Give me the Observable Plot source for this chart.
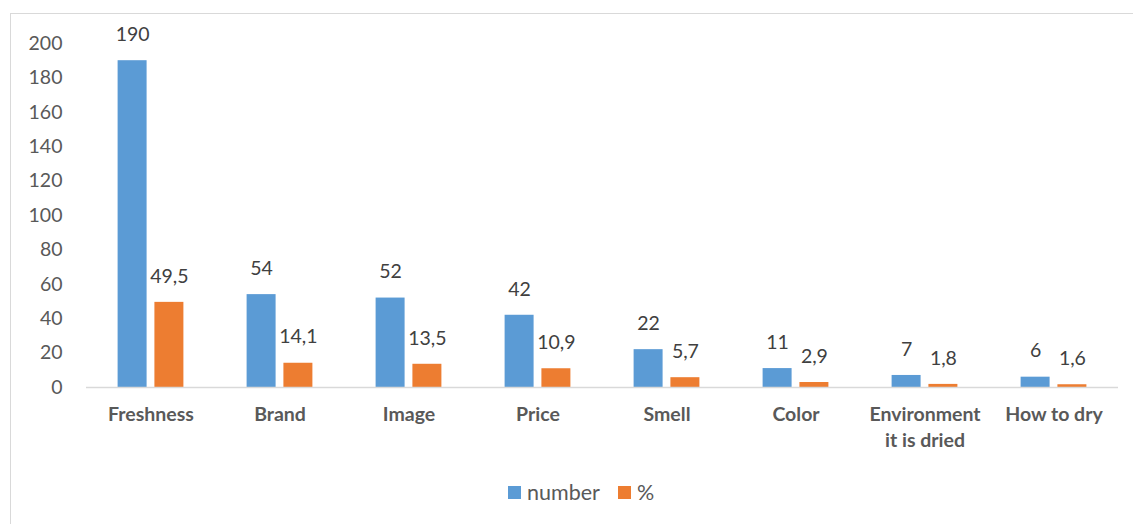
<!DOCTYPE html>
<html>
<head>
<meta charset="utf-8">
<script src="https://cdn.jsdelivr.net/npm/d3@7"></script>
<script src="https://cdn.jsdelivr.net/npm/@observablehq/plot@0.6"></script>
<style>
  html, body { margin: 0; padding: 0; background: #fff; overflow: hidden; }
  body { width: 1133px; height: 524px; position: relative; font-family: Lato, "Open Sans", sans-serif; }
  #frame { position: absolute; left: 10px; top: 13px; width: 1140px; height: 530px; border: 1px solid #d9d9d9; box-sizing: border-box; }
  #chart { position: absolute; left: 0; top: 0; }
  #legend { position: absolute; left: 508px; top: 479px; display: flex; align-items: center; font-size: 21.5px; color: #595959; }
  .sw { display: inline-block; width: 13px; height: 13px; margin-right: 6px; }
  .item { display: flex; align-items: center; margin-right: 18px; }
</style>
</head>
<body>
<div id="frame"></div>
<div id="chart"></div>
<div id="legend"></div>
<script>
const categories = ["Freshness", "Brand", "Image", "Price", "Smell", "Color", "Environment\nit is dried", "How to dry"];
const numberValues = [190, 54, 52, 42, 22, 11, 7, 6];
const percentValues = [49.5, 14.1, 13.5, 10.9, 5.7, 2.9, 1.8, 1.6];
const seriesNames = ["number", "%"];
const seriesColors = ["#5B9BD5", "#ED7D31"];
const yTicks = [0, 20, 40, 60, 80, 100, 120, 140, 160, 180, 200];

const numberRows = categories.map((c, i) => ({category: c, series: seriesNames[0], value: numberValues[i]}));
const percentRows = categories.map((c, i) => ({category: c, series: seriesNames[1], value: percentValues[i]}));
const fmt = v => String(v).replace(".", ",");

const bw = 65.8;   // band width: 129px step with paddingInner 0.49
const barW = 29;
const off = bw / 2 - barW / 2;

const chart = Plot.plot({
  width: 1133,
  height: 460,
  marginTop: 43,
  marginBottom: 73,
  marginLeft: 86,
  marginRight: 15,
  style: {fontFamily: "Lato, 'Open Sans', sans-serif", background: "transparent"},
  x: {domain: categories, paddingInner: 0.49, paddingOuter: 0.245, round: false},
  y: {domain: [0, 200]},
  marks: [
    Plot.barY(numberRows, {x: "category", y: "value", fill: seriesColors[0], insetRight: bw - barW}),
    Plot.barY(percentRows, {x: "category", y: "value", fill: seriesColors[1], insetLeft: bw - barW}),
    Plot.ruleY([0], {stroke: "#d9d9d9", strokeWidth: 1.5}),
    Plot.text(numberRows, {x: "category", y: "value", text: d => fmt(d.value), dx: -off, dy: -26, fontSize: 19.5, fill: "#404040"}),
    Plot.text(percentRows, {x: "category", y: "value", text: d => fmt(d.value), dx: off, dy: -26, fontSize: 19.5, fill: "#404040"}),
    Plot.axisY({ticks: yTicks, tickSize: 0, tickPadding: 24, fontSize: 19.5, fill: "#595959", label: null}),
    Plot.axisX({tickSize: 0, tickPadding: 15, fontSize: 19.5, fontWeight: "bold", fill: "#595959", lineHeight: 1.33, label: null})
  ]
});
document.getElementById("chart").appendChild(chart);

const legend = document.getElementById("legend");
seriesNames.forEach((name, i) => {
  const item = document.createElement("div");
  item.className = "item";
  const sw = document.createElement("span");
  sw.className = "sw";
  sw.style.background = seriesColors[i];
  const label = document.createElement("span");
  label.textContent = name;
  item.appendChild(sw);
  item.appendChild(label);
  legend.appendChild(item);
});
</script>
</body>
</html>
